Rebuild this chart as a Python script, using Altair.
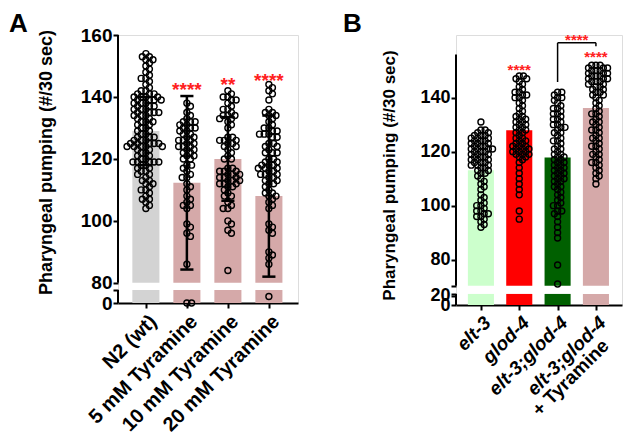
import json, math
import altair as alt
import pandas as pd

FONT = "Liberation Sans"

# ---------------- Panel A data ----------------
a_cats = ["N2 (wt)", "5 mM Tyramine", "10 mM Tyramine", "20 mM Tyramine"]
a_colors = ["#d3d3d3", "#d5a9a9", "#d5a9a9", "#d5a9a9"]
a_means = [129.0, 112.3, 120.0, 108.0]
a_sd = [11.0, 28.0, 13.5, 26.0]
a_stars = ["", "****", "**", "****"]
a_star_y = [0, 143.5, 145.0, 146.6]

n2_vals = [154, 153, 152, 151, 150, 149, 148, 147, 146, 145, 144, 143, 142, 141, 140, 139, 138, 137, 136, 135,
           134, 133, 132, 131, 130, 129, 128, 127, 126, 125, 124, 123, 122, 121, 120, 119, 118, 117, 116, 115,
           114, 113, 112, 111, 110, 109, 108, 107, 106, 105, 104]
n2_cnts = [1, 2, 2, 1, 1, 1, 1, 1, 2, 1, 1, 1, 2, 3, 4, 4, 3, 3, 3, 4,
           3, 2, 3, 2, 2, 2, 2, 3, 3, 5, 5, 2, 2, 2, 2, 5, 2, 2, 2, 2,
           1, 2, 2, 1, 2, 1, 1, 2, 1, 1, 1]
t5_vals = [138, 137, 135, 134, 133, 132, 131, 130, 129, 128, 127, 126, 125, 124, 123, 122, 121, 120,
           118, 117, 116, 115, 114, 112, 111, 110, 108, 107, 106, 105, 104, 99, 98, 96, 95, 86, 0]
t5_cnts = [1, 1, 1, 1, 1, 3, 2, 3, 2, 2, 2, 3, 2, 3, 2, 2, 2, 2,
           2, 1, 1, 1, 2, 1, 1, 1, 1, 1, 1, 2, 1, 1, 1, 1, 1, 1, 2]
t10_vals = [142, 141, 140, 139, 138, 137, 136, 135, 134, 133, 132, 131, 130, 127, 126, 125, 124, 123, 122,
            121, 120, 117, 116, 115, 114, 113, 112, 111, 110, 109, 108, 106, 105, 104, 100, 99, 97, 96, 84]
t10_cnts = [1, 1, 2, 2, 1, 1, 2, 1, 3, 2, 1, 1, 1, 2, 3, 2, 2, 1, 1,
            1, 2, 2, 3, 3, 3, 3, 3, 2, 1, 1, 2, 1, 1, 2, 1, 1, 1, 1, 1]
t20_vals = [144, 143, 142, 141, 139, 136, 135, 134, 133, 132, 131, 130, 129, 128, 127, 125, 124, 123, 122,
            120, 119, 118, 117, 116, 115, 114, 113, 112, 111, 110, 109, 108, 107, 106, 105, 104,
            99, 98, 97, 96, 90, 89, 88, 86, 10]
t20_cnts = [1, 1, 1, 1, 1, 1, 2, 2, 1, 1, 1, 2, 2, 3, 2, 2, 2, 1, 3,
            2, 2, 3, 3, 2, 3, 2, 2, 2, 1, 1, 2, 2, 1, 1, 1, 1,
            1, 1, 1, 1, 1, 1, 1, 1, 1]
a_groups = [(n2_vals, n2_cnts), (t5_vals, t5_cnts), (t10_vals, t10_cnts), (t20_vals, t20_cnts)]

# ---------------- Panel B data ----------------
b_cats = ["elt-3", "glod-4", "elt-3;glod-4", "elt-3;glod-4"]
b_extra = "+ Tyramine"
b_colors = ["#ccffcc", "#ff0000", "#006000", "#d5a9a9"]
b_means = [113.1, 127.9, 117.8, 136.2]
b_stars = ["", "****", "", "****"]
b_star_y = [0, 151.8, 0, 156.5]
bracket_x = [2, 3]
bracket_top = 160.3
bracket_legs = [145.8, 159.0]
bracket_star_y = 163.0

e3_vals = [131, 128, 127, 126, 125, 124, 123, 122, 121, 120, 119, 118, 117, 116, 115, 114, 113, 112, 111, 110,
           109, 108, 107, 106, 104, 103, 102, 101, 100, 99, 98, 97, 96, 95, 94, 93, 92]
e3_cnts = [1, 2, 2, 3, 3, 3, 3, 3, 4, 3, 3, 3, 3, 3, 3, 2, 2, 2, 1, 1,
           1, 1, 1, 1, 1, 1, 1, 1, 2, 1, 2, 2, 2, 1, 1, 1, 1]
g4_vals = [148, 147, 146, 145, 144, 143, 142, 141, 140, 139, 138, 137, 136, 135, 134, 133, 132, 131, 130, 129,
           128, 127, 126, 125, 124, 123, 122, 121, 120, 119, 118, 117, 116, 114, 112, 110, 108, 106, 104, 98, 95]
g4_cnts = [2, 2, 1, 1, 1, 1, 2, 2, 2, 1, 1, 1, 1, 1, 1, 2, 2, 2, 2, 2,
           2, 2, 1, 2, 2, 2, 3, 3, 3, 3, 2, 1, 1, 1, 1, 1, 1, 1, 1, 1, 1]
eg_vals = [142, 141, 140, 139, 138, 137, 136, 135, 134, 133, 132, 131, 130, 129, 128, 127, 126, 125, 124, 123,
           122, 121, 120, 119, 118, 117, 116, 115, 114, 113, 112, 111, 110, 109, 108, 107, 106, 105, 104, 103,
           102, 101, 100, 98, 97, 96, 94, 92, 90, 88, 78, 71]
eg_cnts = [2, 1, 2, 1, 1, 1, 2, 1, 2, 1, 2, 1, 2, 2, 1, 2, 1, 1, 2, 1,
           1, 2, 1, 2, 2, 2, 2, 2, 2, 2, 2, 2, 2, 2, 1, 2, 1, 1, 1, 1,
           1, 1, 2, 2, 1, 1, 1, 1, 1, 1, 1, 1]
ty_vals = [152, 151, 150, 149, 148, 147, 146, 145, 144, 143, 142, 141, 140, 139, 138, 137, 136, 135, 134, 133,
           132, 131, 130, 129, 128, 127, 126, 125, 124, 123, 122, 121, 120, 119, 118, 117, 116, 115, 114, 113,
           112, 111, 110, 108]
ty_cnts = [3, 3, 3, 3, 3, 3, 3, 2, 2, 2, 2, 2, 1, 1, 1, 1, 1, 1, 2, 1,
           1, 2, 1, 1, 2, 1, 1, 2, 1, 1, 2, 1, 1, 2, 1, 1, 2, 1, 1, 1,
           1, 1, 1, 1]
b_groups = [(e3_vals, e3_cnts), (g4_vals, g4_cnts), (eg_vals, eg_cnts), (ty_vals, ty_cnts)]

# ---------------- geometry of the broken axes ----------------
A_W, A_H = 180, 268
A_BOT, A_LO_TOP, A_HI_BOT, A_TOP, A_LOWMAX = 73.5, 77.7, 80.0, 160.0, 20.0
A_XDOM = [-0.68, 3.71]
B_W, B_H = 166, 270
B_BOT, B_LO_TOP, B_HI_BOT, B_TOP, B_AXTOP, B_LOWMAX = 63.2, 67.3, 70.3, 163.2, 156.0, 24.0
B_XDOM = [-0.65, 3.68]


def ta(v):
    return v if v >= A_HI_BOT else A_BOT + v / A_LOWMAX * (A_LO_TOP - A_BOT)


def tb(v):
    return v if v >= B_HI_BOT else B_BOT + v / B_LOWMAX * (B_LO_TOP - B_BOT)


def swarm(ys, d):
    order = sorted(range(len(ys)), key=lambda i: -ys[i])
    placed, out = [], [0.0] * len(ys)
    for i in order:
        y = ys[i]
        near = [(px, py) for px, py in placed if abs(py - y) < d]
        cands = [0.0]
        for px, py in near:
            dx = math.sqrt(d * d - (py - y) ** 2)
            cands += [px + dx, px - dx]
        cands.sort(key=lambda c: (abs(c), -c))
        chosen = 0.0
        for c in cands:
            if all((c - px) ** 2 + (y - py) ** 2 >= d * d - 1e-6 for px, py in near):
                chosen = c
                break
        out[i] = chosen
        placed.append((chosen, y))
    return out


def points_df(groups, tf, ypx, xpx, d):
    rows = []
    for gi, (vals, cnts) in enumerate(groups):
        ys = []
        for v, c in zip(vals, cnts):
            ys += [tf(v)] * c
        offs = swarm([y * ypx for y in ys], d)
        for y, o in zip(ys, offs):
            rows.append({"x": gi + o / xpx, "y": y})
    return pd.DataFrame(rows)


def bold(**kw):
    base = dict(font=FONT, fontWeight="bold", color="black")
    base.update(kw)
    return base


def panel(cats, colors, means, groups, tf, W, H, bot, lo_top, hi_bot, ydom, axtop, xdom,
          yvalues, ylabelexpr, ylabfs, xlabfs, titlefs, title_x, title_y, letter, letter_x, xlab_italic,
          halfw, capw, sds, stars, star_y, starfs, dsw):
    ypx = H / (ydom[1] - ydom[0])
    xpx = W / (xdom[1] - xdom[0])
    xaxis = alt.Axis(values=list(range(len(cats))), labelExpr=json.dumps(cats) + "[datum.value]",
                     labelAngle=-45, labelAlign="right", labelBaseline="top", labelFontSize=xlabfs,
                     labelFont=FONT, labelFontWeight="bold", labelColor="black",
                     labelFontStyle="italic" if xlab_italic else "normal",
                     labelPadding=3, labelOverlap=False, tickColor="black", tickSize=5, tickWidth=2,
                     domainColor="black", domainWidth=2, grid=False, title=None)
    yaxis = alt.Axis(values=yvalues, labelExpr=ylabelexpr, domain=False, grid=False, tickSize=5,
                     tickWidth=2, tickColor="black", labelFontSize=ylabfs, labelFont=FONT,
                     labelFontWeight="bold", labelColor="black", labelPadding=1, labelOverlap=False,
                     title="Pharyngeal pumping (#/30 sec)", titleFontSize=titlefs, titleFont=FONT,
                     titleFontWeight="bold", titleColor="black", titleX=title_x, titleY=title_y,
                     titleAlign="center", titleBaseline="middle", titleAngle=270)

    def X(f):
        return alt.X(f, scale=alt.Scale(domain=xdom, nice=False, zero=False), axis=xaxis)

    def Y(f):
        return alt.Y(f, scale=alt.Scale(domain=ydom, nice=False, zero=False), axis=yaxis)

    n = len(cats)
    bars = pd.DataFrame({"i": list(range(n)), "x0": [i - halfw for i in range(n)],
                         "x1": [i + halfw for i in range(n)], "lo": [bot] * n, "lotop": [lo_top] * n,
                         "hib": [hi_bot] * n, "m": [tf(m) for m in means], "c": colors})
    base = alt.Chart(bars)
    hi = base.mark_rect().encode(x=X("x0:Q"), x2="x1:Q", y=Y("hib:Q"), y2="m:Q",
                                 color=alt.Color("c:N", scale=None))
    lo = base.mark_rect().encode(x=X("x0:Q"), x2="x1:Q", y=Y("lo:Q"), y2="lotop:Q",
                                 color=alt.Color("c:N", scale=None))
    seg = pd.DataFrame({"a": [hi_bot, bot], "b": [axtop, lo_top]})
    yrule = alt.Chart(seg).mark_rule(color="black", strokeWidth=2).encode(
        x=alt.value(0), y=Y("a:Q"), y2="b:Q")
    layers = [hi, lo, yrule]
    if sds is not None:
        eb = pd.DataFrame({"i": list(range(n)), "l": [m - s for m, s in zip(means, sds)],
                           "h": [m + s for m, s in zip(means, sds)],
                           "c0": [i - capw for i in range(n)], "c1": [i + capw for i in range(n)]})
        layers.append(alt.Chart(eb).mark_rule(color="black", strokeWidth=2.5).encode(
            x=X("i:Q"), y=Y("l:Q"), y2="h:Q"))
        for f in ["l", "h"]:
            layers.append(alt.Chart(eb).mark_rule(color="black", strokeWidth=2.5).encode(
                x=X("c0:Q"), x2="c1:Q", y=Y(f + ":Q")))
    pts = points_df(groups, tf, ypx, xpx, dsw)
    layers.append(alt.Chart(pts).mark_point(shape="circle", filled=False, size=36, strokeWidth=1.4,
                                             color="black", opacity=1).encode(x=X("x:Q"), y=Y("y:Q")))
    sd = pd.DataFrame({"i": list(range(n)), "s": stars, "y": star_y})
    sd = sd[sd["s"] != ""]
    layers.append(alt.Chart(sd).mark_text(**bold(color="#ff2020", fontSize=starfs, baseline="middle", dy=4)).encode(
        x=X("i:Q"), y=Y("y:Q"), text="s:N"))
    layers.append(alt.Chart(pd.DataFrame({"t": [letter]})).mark_text(
        **bold(fontSize=26, align="left", baseline="top")).encode(
        x=alt.value(letter_x), y=alt.value(-24), text="t:N"))
    return layers, X, Y


a_layers, aX, aY = panel(a_cats, a_colors, a_means, a_groups, ta, A_W, A_H, A_BOT, A_LO_TOP, A_HI_BOT,
                         [A_BOT, A_TOP], A_TOP, A_XDOM,
                         [A_BOT, A_LO_TOP, 80, 100, 120, 140, 160],
                         "datum.value < 75 ? '0' : datum.value < 79 ? '' : datum.label",
                         19, 20, 18, -72, 127, "A", -109, False, 0.33, 0.16, a_sd, a_stars, a_star_y, 19, 4.7)
panelA = alt.layer(*a_layers).properties(width=A_W, height=A_H)

b_layers, bX, bY = panel(b_cats, b_colors, b_means, b_groups, tb, B_W, B_H, B_BOT, B_LO_TOP, B_HI_BOT,
                         [B_BOT, B_TOP], B_AXTOP, B_XDOM,
                         [B_BOT, tb(20), B_LO_TOP, B_HI_BOT, 80, 100, 120, 140],
                         "datum.value < 64 ? '0' : datum.value < 67 ? '20' : datum.value < 79 ? '' : datum.label",
                         18, 19, 17, -67, 140, "B", -113, True, 0.34, 0.16, None, b_stars, b_star_y, 15, 4.2)

# bracket between the last two groups of panel B
brk = pd.DataFrame({"x0": [bracket_x[0], bracket_x[0], bracket_x[1]],
                    "x1": [bracket_x[1], bracket_x[0], bracket_x[1]],
                    "y0": [bracket_top, bracket_legs[0], bracket_legs[1]],
                    "y1": [bracket_top, bracket_top, bracket_top]})
b_layers.append(alt.Chart(brk).mark_rule(color="black", strokeWidth=1.5).encode(
    x=bX("x0:Q"), x2="x1:Q", y=bY("y0:Q"), y2="y1:Q"))
bs = pd.DataFrame({"x": [sum(bracket_x) / 2], "y": [bracket_star_y], "s": ["****"]})
b_layers.append(alt.Chart(bs).mark_text(**bold(color="#ff2020", fontSize=15, baseline="middle", dy=4)).encode(
    x=bX("x:Q"), y=bY("y:Q"), text="s:N"))
# second line of the last label
ex = pd.DataFrame({"x": [3], "t": [b_extra]})
b_layers.append(alt.Chart(ex).mark_text(**bold(fontSize=19, align="right", baseline="top", angle=315,
                                               dx=-14, dy=19)).encode(
    x=bX("x:Q"), y=alt.value(B_H + 8), text="t:N"))
panelB = alt.layer(*b_layers).properties(width=B_W, height=B_H)

chart = alt.hconcat(panelA, panelB, spacing=43).properties(
    padding={"left": 0, "top": 2, "right": 0, "bottom": 0}
).configure_view(stroke="transparent").configure(background="white")

chart.save("out.html", embed_options={"renderer": "svg", "actions": False})
